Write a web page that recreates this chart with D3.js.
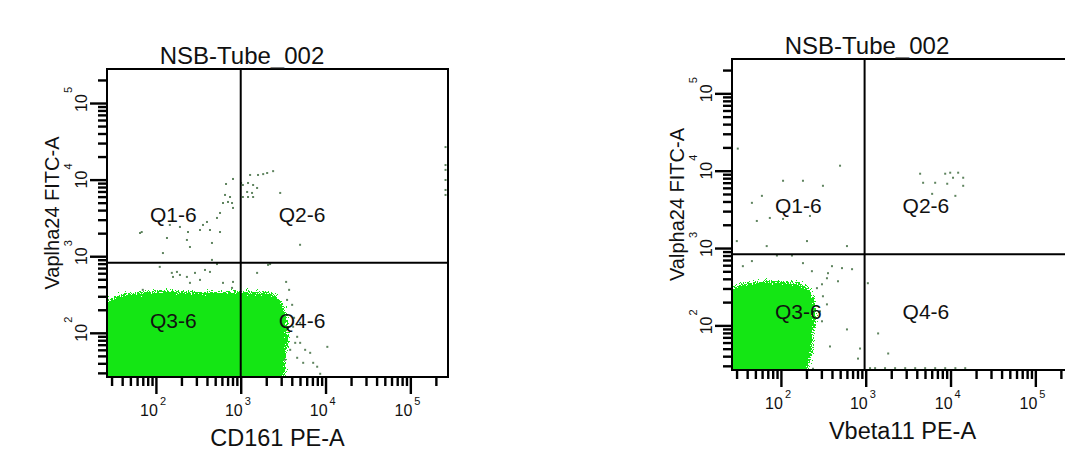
<!DOCTYPE html>
<html><head><meta charset="utf-8">
<script src="https://cdn.jsdelivr.net/npm/d3@7"></script>
<style>
body{margin:0;background:#fff}
svg{display:block}
text{font-family:"Liberation Sans",Arial,sans-serif;fill:#111}
</style>
</head><body>
<svg id="chart" width="1065" height="475"></svg>
<script>
// ---------- data ----------
const titles = ["NSB-Tube_002", "NSB-Tube_002"];
const xLabels = ["CD161 PE-A", "Vbeta11 PE-A"];
const yLabels = ["Vaplha24 FITC-A", "Valpha24 FITC-A"];
const quadrantLabels = [["Q1-6", "Q2-6", "Q3-6", "Q4-6"], ["Q1-6", "Q2-6", "Q3-6", "Q4-6"]];
const axisDomain = [26.5, 278000];
const decadeTicks = [100, 1000, 10000, 100000];
const decadeExponents = ["2", "3", "4", "5"];
const gateX = [1000, 970];
const gateY = [820, 830];

// dense population outlines (intensity units)
const cloudA = [[20,20],[20,232],[33,303],[43,332],[111,364],[331,343],[600,352],[982,353],[1600,348],[2340,343],[2990,277],[3520,172],[3720,94],[3520,52],[3340,27],[3300,20]];
const cloudB = [[20,20],[20,277],[33,351],[74,384],[168,361],[232,294],[266,177],[252,84],[232,40],[208,26],[205,20]];

// sparse events
const pointsA = [
  [811,10200],[671,8770],[653,6310],[708,5110],[790,4950],[618,4950],[811,4270],[570,3670],[525,3160],[400,2800],
  [359,2560],[434,2200],[331,2200],[239,2070],[192,2410],[146,2560],[68,2070],[135,1730],[232,1630],[252,1320],
  [121,1100],[458,1490],[570,2070],[748,5930],[65,2010],[458,895],
  [1060,8510],[1220,9040],[1400,8510],[1560,7780],[1190,6900],[1360,6700],[1060,5930],[1220,5930],[1400,5930],
  [1600,11500],[1840,11800],[2410,12900],[2920,6700],[1290,11500],[2050,12200],[1010,9040],[5010,1410],
  [260000,26600],[260000,15500],[260000,13400],[260000,9890],[260000,7330],[260000,6310],
  [154,606],[177,624],[192,570],[159,537],[232,537],[289,606],[331,491],[434,624],[618,449],[811,462],
  [111,726],[525,790],[252,449],[790,386],[70,364],[379,662],
  [1560,606],[2100,771],[3520,269],[4040,232],[4150,120],[4630,88.7],[5020,74],[5750,60],[6590,54.8],[5450,40.6],
  [4630,47.2],[10500,65.6],[7970,36.1],[3830,60],[4390,74],[3340,44.5],[5020,135],[7150,40.6],[8650,29.2],
  [2220,790],[3430,462],[3720,364],[4260,157]
];
const pointsB = [
  [498,11600],[182,7410],[106,7410],[313,6380],[45.5,3840],[59.7,4730],[74,2450],[52,2240],[106,2380],[220,2600],
  [31,19300],[203,1230],[601,1060],[30.2,1230],[68,1060],
  [4380,9140],[4750,6980],[6590,6980],[8650,9140],[9910,9420],[10700,8110],[12300,9420],[14100,8110],[9140,6780],
  [14100,6380],[11400,4730],[6070,5020],
  [89.7,800],[135,800],[182,638],[400,583],[525,550],[690,533],[359,473],[349,407],[305,340],[266,303],
  [313,238],[349,187],[289,152],[601,88.7],[379,53.4],[857,50.2],[811,37.2],[35.6,583],[45.5,678],[232,502],
  [471,372],[305,113],[239,27.5],
  [1060,351],[1400,78.7],[1840,43.3],[1125,28],[1290,28],[1690,28],[2220,28],[2920,28],[3830,28],[5020,28],
  [6590,28],[8650,28],[11400,28],[14900,28]
];

// ---------- layout ----------
const panels = [
  {id:0, left:107, right:448, top:69, bottom:377, cloud:cloudA, points:pointsA},
  {id:1, left:732, right:1073, top:59, bottom:370, cloud:cloudB, points:pointsB}
];

const svg = d3.select("#chart");
const defs = svg.append("defs");
// speckled-edge density look
const f = defs.append("filter").attr("id","speckle").attr("x","-10%").attr("y","-10%").attr("width","120%").attr("height","120%")
  .attr("color-interpolation-filters","sRGB");
f.append("feGaussianBlur").attr("in","SourceAlpha").attr("stdDeviation","4.5").attr("result","b");
f.append("feTurbulence").attr("type","fractalNoise").attr("baseFrequency","0.8").attr("numOctaves","2").attr("seed","7").attr("result","n");
f.append("feColorMatrix").attr("in","n").attr("type","matrix")
  .attr("values","0 0 0 0 0  0 0 0 0 0  0 0 0 0 0  1.8 0 0 0 -0.4").attr("result","na");
f.append("feComposite").attr("in","b").attr("in2","na").attr("operator","arithmetic")
  .attr("k1","0").attr("k2","1.4").attr("k3","0.9").attr("k4","-0.75").attr("result","m");
f.append("feComponentTransfer").attr("in","m").attr("result","t")
  .append("feFuncA").attr("type","discrete").attr("tableValues","0 1");
f.append("feFlood").attr("flood-color","#14e614").attr("result","fl");
f.append("feComposite").attr("in","fl").attr("in2","t").attr("operator","in");

panels.forEach(p => {
  const i = p.id;
  const x = d3.scaleLog().domain(axisDomain).range([p.left, p.right]);
  const y = d3.scaleLog().domain(axisDomain).range([p.bottom, p.top]);
  const g = svg.append("g");

  defs.append("clipPath").attr("id","clip"+i).append("rect")
    .attr("x",p.left).attr("y",p.top).attr("width",p.right-p.left).attr("height",p.bottom-p.top);
  const plot = g.append("g").attr("clip-path",`url(#clip${i})`);

  // dense population
  plot.append("path").datum(p.cloud)
    .attr("d", d3.line().x(d=>x(d[0])).y(d=>y(d[1])).curve(d3.curveLinearClosed))
    .attr("fill","#14e614").attr("filter","url(#speckle)");

  // sparse events
  plot.selectAll("rect.ev").data(p.points).join("rect").attr("class","ev")
    .attr("x",d=>x(d[0])-1).attr("y",d=>y(d[1])-1).attr("width",2).attr("height",2)
    .attr("fill","#5f845f");

  // gates
  plot.append("line").attr("x1",x(gateX[i])).attr("x2",x(gateX[i])).attr("y1",p.top).attr("y2",p.bottom)
    .attr("stroke","#000").attr("stroke-width",2);
  plot.append("line").attr("x1",p.left).attr("x2",p.right).attr("y1",y(gateY[i])).attr("y2",y(gateY[i]))
    .attr("stroke","#000").attr("stroke-width",2);

  // quadrant labels
  const ql = quadrantLabels[i];
  const qpos = [
    [p.left+43, y(gateY[i])-41],[x(gateX[i])+38, y(gateY[i])-41],
    [p.left+43, y(gateY[i])+65],[x(gateX[i])+38, y(gateY[i])+65]
  ];
  ql.forEach((t,k)=>{
    g.append("text").attr("x",qpos[k][0]).attr("y",qpos[k][1]).attr("font-size",21).text(t);
  });

  // frame
  g.append("rect").attr("x",p.left).attr("y",p.top).attr("width",p.right-p.left).attr("height",p.bottom-p.top)
    .attr("fill","none").attr("stroke","#000").attr("stroke-width",2);

  // axes ticks
  const minor = x.ticks().filter(t => !decadeTicks.includes(t));
  const styleAxis = a => {
    a.select(".domain").remove();
    a.selectAll("line").attr("stroke","#000").attr("stroke-width",2.4);
  };
  g.append("g").attr("transform",`translate(0,${p.bottom})`)
    .call(d3.axisBottom(x).tickValues(minor).tickSize(9).tickFormat("")).call(styleAxis);
  g.append("g").attr("transform",`translate(0,${p.bottom})`)
    .call(d3.axisBottom(x).tickValues(decadeTicks).tickSize(17).tickFormat("")).call(styleAxis);
  g.append("g").attr("transform",`translate(${p.left},0)`)
    .call(d3.axisLeft(y).tickValues(minor).tickSize(9).tickFormat("")).call(styleAxis);
  g.append("g").attr("transform",`translate(${p.left},0)`)
    .call(d3.axisLeft(y).tickValues(decadeTicks).tickSize(17).tickFormat("")).call(styleAxis);

  // tick labels
  decadeTicks.forEach((t,k)=>{
    g.append("text").attr("x",x(t)+2).attr("y",p.bottom+39).attr("text-anchor","end").attr("font-size",16).text("10");
    g.append("text").attr("x",x(t)+4).attr("y",p.bottom+28).attr("font-size",11).text(decadeExponents[k]);
    g.append("text").attr("transform",`translate(${p.left-20},${y(t)}) rotate(-90)`).attr("text-anchor","middle").attr("font-size",16).text("10");
    g.append("text").attr("transform",`translate(${p.left-35},${y(t)-10}) rotate(-90)`).attr("text-anchor","start").attr("font-size",11).text(decadeExponents[k]);
  });

  // titles & axis labels
  g.append("text").attr("x",p.left+135).attr("y",p.top-5).attr("text-anchor","middle").attr("font-size",24).text(titles[i]);
  g.append("text").attr("x",(p.left+p.right)/2).attr("y",p.bottom+69).attr("text-anchor","middle").attr("font-size",23.5).text(xLabels[i]);
  g.append("text").attr("transform",`translate(${p.left-48},${(p.top+p.bottom)/2-10}) rotate(-90)`)
    .attr("text-anchor","middle").attr("font-size",20).text(yLabels[i]);
});
</script>
</body></html>
